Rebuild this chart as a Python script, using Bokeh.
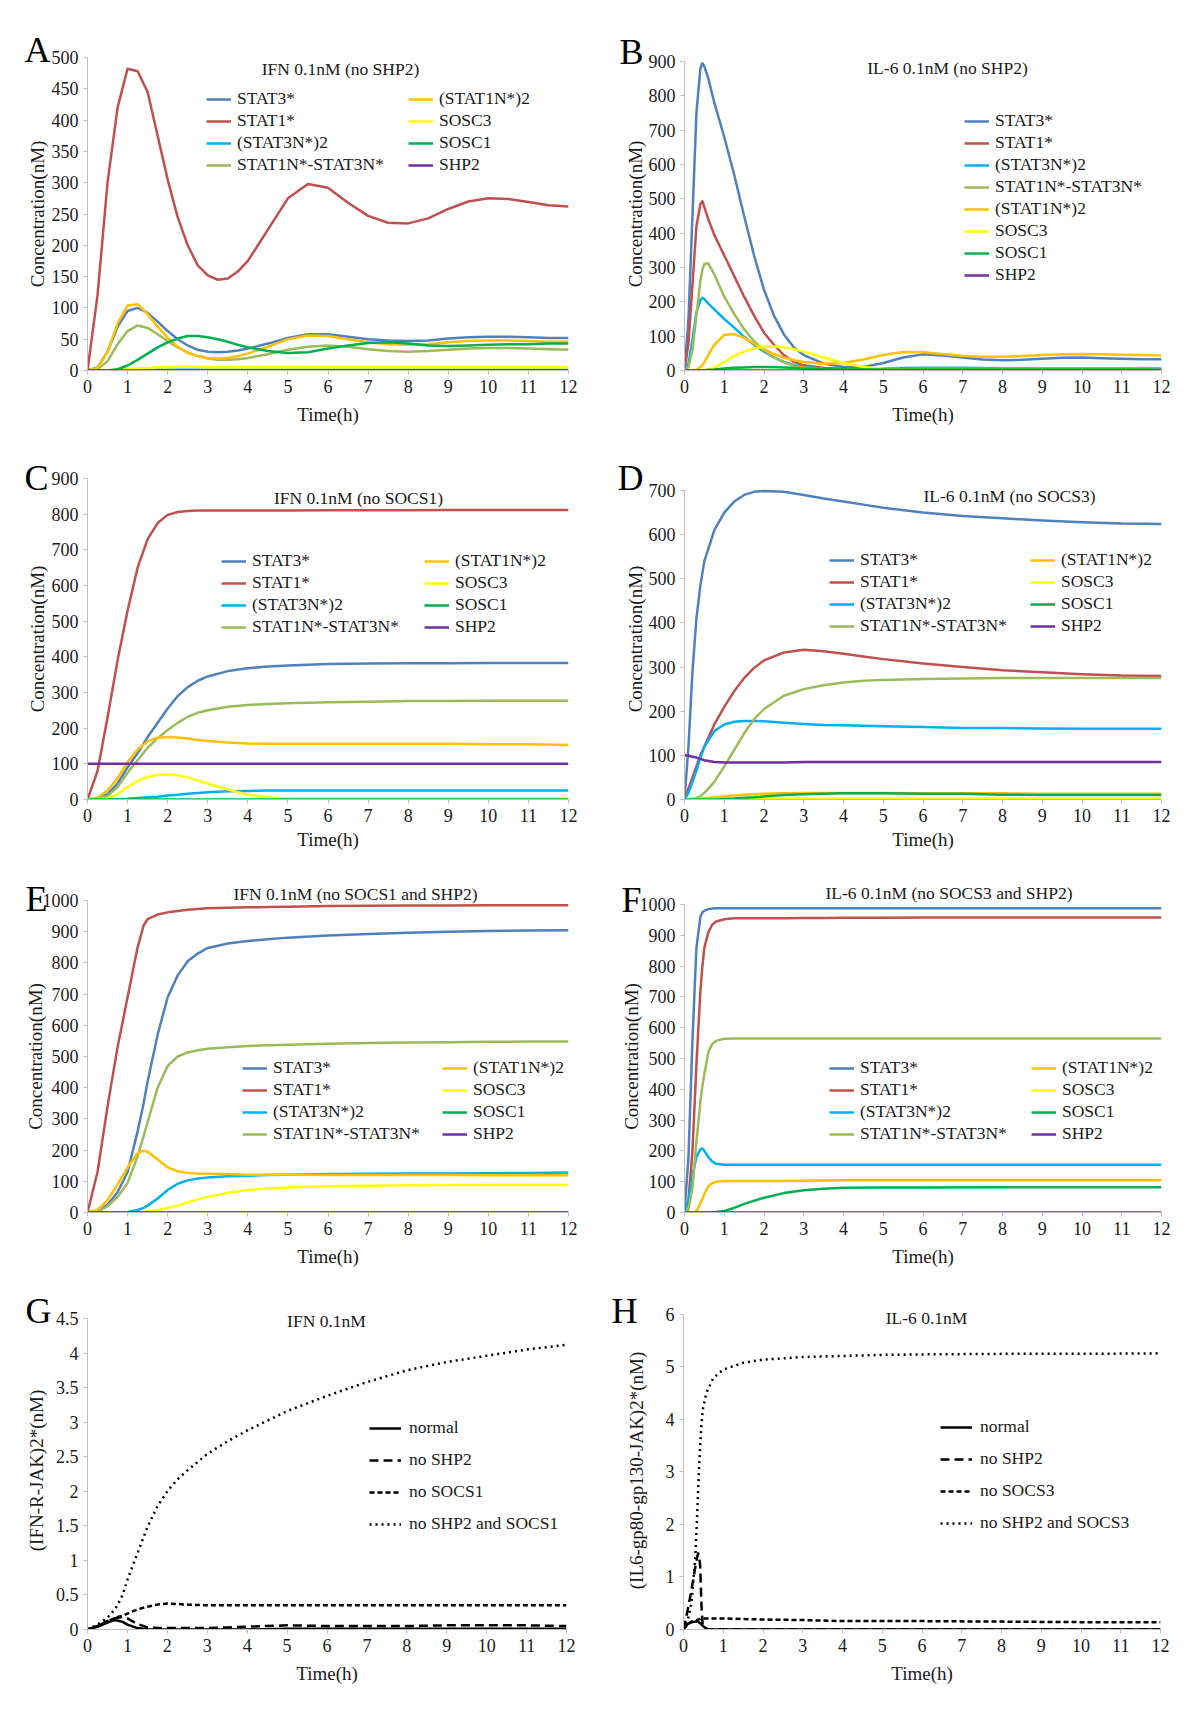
from bokeh.plotting import figure
from bokeh.models import (Range1d, FixedTicker, Legend, LegendItem, Label, Title,
                          CustomJSTickFormatter)
from bokeh.layouts import column, row
from bokeh.embed import file_html
from bokeh.resources import INLINE

FONT = "Liberation Serif"
TXT = "#1a1a1a"
AXIS_GRAY = "#BFBFBF"

NAMES = ["STAT3*", "STAT1*", "(STAT3N*)2", "STAT1N*-STAT3N*",
         "(STAT1N*)2", "SOSC3", "SOSC1", "SHP2"]
COLORS = ["#4F81BD", "#C0504D", "#00B0F0", "#9BBB59",
          "#FFC000", "#FFFF00", "#00B050", "#7030A0"]

X_TICKS = [0, 1, 2, 3, 4, 5, 6, 7, 8, 9, 10, 11, 12]

# ---------------- Panel A: IFN 0.1nM (no SHP2) ----------------
A_T = [0, 0.25, 0.5, 0.75, 1, 1.25, 1.5, 1.75, 2, 2.25, 2.5, 2.75, 3, 3.25, 3.5, 3.75,
       4, 4.5, 5, 5.5, 6, 6.5, 7, 7.5, 8, 8.5, 9, 9.5, 10, 10.5, 11, 11.5, 12]
A_STAT3 = [0, 5, 30, 70, 95, 100, 92, 78, 63, 50, 40, 33, 30, 29, 30, 32,
           35, 43, 52, 58, 58, 54, 50, 48, 47, 48, 51, 53, 54, 54, 53, 52, 52]
A_STAT1 = [0, 120, 300, 420, 482, 478, 445, 375, 305, 245, 200, 168, 152, 145, 147, 158,
           175, 225, 275, 298, 292, 268, 247, 236, 235, 243, 258, 270, 275, 274, 269, 264, 262]
A_STAT3N2 = [0, 0, 0, 0, 1, 1, 1, 1, 1, 1, 1, 1, 1, 1, 1, 1,
             1, 1, 1, 1, 1, 1, 1, 1, 1, 1, 1, 1, 1, 1, 1, 1, 1]
A_HET = [0, 2, 15, 42, 63, 72, 68, 58, 47, 37, 29, 23, 19, 17, 17, 18,
         20, 26, 33, 38, 40, 38, 34, 31, 30, 31, 33, 35, 36, 36, 35, 34, 33]
A_STAT1N2 = [0, 4, 30, 75, 104, 106, 90, 70, 52, 38, 28, 23, 20, 19, 20, 23,
             27, 38, 50, 56, 55, 50, 45, 42, 41, 42, 45, 47, 48, 48, 47, 46, 46]
A_SOCS3 = [0, 0, 0, 1, 2, 3, 4, 5, 5, 6, 6, 6, 5, 5, 5, 5,
           5, 5, 5, 5, 5, 5, 5, 5, 5, 5, 5, 5, 5, 5, 5, 5, 5]
A_SOCS1 = [0, 0, 0, 2, 8, 17, 27, 37, 45, 51, 55, 55, 53, 50, 46, 41,
           37, 31, 28, 29, 35, 40, 44, 45, 43, 40, 39, 40, 41, 42, 42, 43, 43]
A_SHP2 = [0] * 33
A_YTICKS = [0, 50, 100, 150, 200, 250, 300, 350, 400, 450, 500]

# ---------------- Panel B: IL-6 0.1nM (no SHP2) ----------------
B_T = [0, 0.1, 0.2, 0.3, 0.4, 0.45, 0.5, 0.6, 0.75, 1, 1.25, 1.5, 1.75, 2, 2.25, 2.5,
       2.75, 3, 3.5, 4, 4.5, 5, 5.5, 6, 6.5, 7, 7.5, 8, 8.5, 9, 9.5, 10, 10.5, 11, 11.5, 12]
B_STAT3 = [0, 150, 450, 750, 880, 895, 885, 850, 780, 680, 570, 450, 335, 235, 160, 105,
           68, 45, 20, 10, 10, 22, 38, 47, 44, 38, 32, 30, 31, 34, 37, 38, 36, 34, 33, 33]
B_STAT1 = [0, 80, 250, 420, 485, 493, 475, 440, 395, 335, 275, 215, 160, 110, 75, 45,
           25, 15, 7, 5, 4, 4, 4, 4, 4, 4, 4, 4, 4, 4, 4, 4, 4, 4, 4, 4]
B_STAT3N2 = [0, 20, 90, 170, 205, 212, 208, 195, 178, 150, 125, 98, 75, 55, 38, 25,
             16, 10, 5, 3, 4, 6, 7, 8, 8, 8, 7, 6, 6, 6, 6, 6, 6, 6, 6, 6]
B_HET = [0, 10, 60, 160, 260, 295, 310, 312, 280, 215, 165, 120, 85, 58, 38, 24,
         14, 9, 4, 3, 3, 3, 4, 5, 5, 5, 5, 4, 4, 4, 4, 4, 4, 4, 4, 4]
B_STAT1N2 = [0, 0, 0, 2, 10, 16, 25, 45, 75, 104, 106, 95, 78, 62, 48, 38,
             30, 25, 20, 22, 32, 45, 54, 53, 48, 42, 40, 40, 42, 45, 47, 48, 47, 46, 45, 44]
B_SOCS3 = [0, 0, 0, 0, 0, 0, 1, 3, 8, 25, 42, 55, 64, 69, 70, 68,
           62, 55, 38, 22, 10, 5, 4, 3, 3, 3, 3, 3, 3, 3, 3, 3, 3, 3, 3, 3]
B_SOCS1 = [0, 0, 0, 0, 0, 0, 1, 2, 3, 6, 8, 9, 10, 10, 10, 9,
           8, 6, 4, 3, 3, 3, 3, 3, 3, 3, 3, 3, 3, 3, 3, 3, 3, 3, 3, 3]
B_SHP2 = [0] * 36
B_YTICKS = [0, 100, 200, 300, 400, 500, 600, 700, 800, 900]

# ---------------- Panel C: IFN 0.1nM (no SOCS1) ----------------
C_T = [0, 0.25, 0.5, 0.75, 1, 1.25, 1.5, 1.75, 2, 2.25, 2.5, 2.75, 3, 3.5, 4, 4.5,
       5, 6, 7, 8, 9, 10, 11, 12]
C_STAT3 = [0, 3, 15, 45, 90, 130, 175, 215, 255, 290, 315, 333, 345, 360, 368, 373,
           376, 380, 381, 382, 382, 383, 383, 383]
C_STAT1 = [0, 80, 230, 390, 530, 650, 730, 775, 798, 806, 809, 810, 810, 810, 810, 810,
           810, 811, 811, 811, 812, 812, 812, 812]
C_STAT3N2 = [0, 0, 0, 1, 2, 4, 6, 8, 11, 13, 16, 18, 20, 23, 24, 25,
             25, 25, 25, 25, 25, 25, 25, 25]
C_HET = [0, 2, 10, 35, 75, 110, 145, 172, 195, 215, 232, 243, 250, 260, 265, 268,
         270, 273, 274, 276, 276, 277, 277, 277]
C_STAT1N2 = [0, 5, 25, 60, 105, 140, 163, 173, 175, 174, 171, 167, 164, 160, 157, 156,
             156, 156, 156, 156, 156, 155, 155, 153]
C_SOCS3 = [0, 0, 3, 15, 35, 52, 63, 69, 70, 68, 62, 53, 45, 28, 13, 6,
           3, 3, 3, 3, 3, 3, 3, 3]
C_SOCS1 = [0] * 24
C_SHP2 = [100] * 24
C_YTICKS = [0, 100, 200, 300, 400, 500, 600, 700, 800, 900]

# ---------------- Panel D: IL-6 0.1nM (no SOCS3) ----------------
D_T = [0, 0.1, 0.2, 0.3, 0.4, 0.5, 0.75, 1, 1.25, 1.5, 1.75, 2, 2.5, 3, 3.5, 4,
       4.5, 5, 6, 7, 8, 9, 10, 11, 12]
D_STAT3 = [0, 120, 290, 410, 485, 540, 610, 650, 675, 690, 697, 699, 697, 690, 682, 675,
           668, 661, 650, 642, 637, 632, 628, 625, 624]
D_STAT1 = [0, 25, 50, 75, 100, 120, 170, 210, 245, 275, 298, 315, 333, 339, 336, 330,
           324, 318, 308, 300, 293, 288, 284, 281, 280]
D_STAT3N2 = [0, 15, 40, 65, 95, 120, 155, 170, 176, 178, 178, 177, 174, 171, 169, 168,
             167, 166, 164, 162, 162, 161, 160, 160, 160]
D_HET = [0, 0, 1, 3, 8, 15, 40, 75, 112, 150, 182, 205, 235, 250, 259, 265,
         269, 271, 273, 274, 275, 275, 275, 275, 275]
D_STAT1N2 = [0, 0, 1, 1, 2, 3, 5, 7, 9, 11, 12, 13, 14, 15, 15, 15,
             15, 15, 14, 14, 14, 13, 13, 13, 13]
D_SOCS3 = [0, 0, 0, 0, 0, 0, 1, 1, 1, 1, 1, 1, 2, 2, 2, 2,
           2, 2, 2, 2, 2, 2, 2, 2, 2]
D_SOCS1 = [0, 0, 0, 0, 0, 0, 0, 1, 2, 4, 5, 7, 10, 12, 13, 14,
           14, 14, 13, 13, 11, 10, 10, 10, 10]
D_SHP2 = [100, 99, 97, 95, 92, 89, 85, 84, 84, 84, 84, 84, 84, 85, 85, 85,
          85, 85, 85, 85, 85, 85, 85, 85, 85]
D_YTICKS = [0, 100, 200, 300, 400, 500, 600, 700]

# ---------------- Panel E: IFN 0.1nM (no SOCS1 and SHP2) ----------------
E_T = [0, 0.25, 0.5, 0.75, 1, 1.25, 1.4, 1.5, 1.75, 2, 2.25, 2.5, 2.75, 3, 3.5, 4,
       4.5, 5, 6, 7, 8, 9, 10, 11, 12]
E_STAT3 = [0, 5, 25, 65, 130, 260, 350, 420, 570, 690, 760, 805, 830, 848, 862, 870,
           876, 881, 888, 893, 897, 900, 902, 904, 905]
E_STAT1 = [0, 130, 340, 530, 690, 850, 920, 940, 955, 962, 966, 970, 973, 975, 977, 978,
           979, 980, 982, 983, 984, 984, 985, 985, 985]
E_STAT3N2 = [0, 0, 0, 0, 2, 8, 15, 22, 45, 72, 92, 103, 109, 112, 116, 118,
             120, 121, 123, 124, 125, 125, 126, 127, 128]
E_HET = [0, 3, 20, 50, 95, 180, 245, 290, 400, 470, 500, 513, 520, 525, 530, 534,
         536, 538, 541, 543, 545, 546, 547, 548, 548]
E_STAT1N2 = [0, 8, 40, 90, 145, 190, 198, 195, 170, 145, 132, 127, 125, 124, 123, 121,
             121, 121, 120, 120, 120, 120, 119, 119, 119]
E_SOCS3 = [0, 0, 0, 0, 0, 1, 2, 4, 8, 14, 22, 32, 42, 50, 63, 72,
           77, 80, 84, 86, 87, 88, 88, 88, 88]
E_SOCS1 = [0] * 25
E_SHP2 = [0] * 25
E_YTICKS = [0, 100, 200, 300, 400, 500, 600, 700, 800, 900, 1000]

# ---------------- Panel F: IL-6 0.1nM (no SOCS3 and SHP2) ----------------
F_T = [0, 0.1, 0.2, 0.3, 0.4, 0.45, 0.5, 0.6, 0.7, 0.8, 1, 1.25, 1.5, 2, 2.5, 3,
       3.5, 4, 5, 6, 8, 10, 12]
F_STAT3 = [0, 180, 560, 860, 960, 975, 980, 985, 987, 988, 988, 988, 988, 988, 988, 988,
           988, 988, 988, 988, 988, 988, 988]
F_STAT1 = [0, 40, 200, 480, 720, 800, 860, 910, 935, 945, 952, 955, 955, 955, 955, 956,
           956, 957, 957, 958, 958, 958, 958]
F_STAT3N2 = [0, 40, 120, 180, 205, 208, 200, 180, 165, 158, 155, 155, 155, 155, 155, 155,
             155, 155, 155, 155, 155, 155, 155]
F_HET = [0, 10, 80, 230, 360, 410, 450, 520, 548, 558, 564, 565, 565, 565, 565, 565,
         565, 565, 565, 565, 565, 565, 565]
F_STAT1N2 = [0, 0, 0, 3, 30, 45, 60, 85, 95, 100, 102, 102, 102, 102, 102, 103,
             104, 105, 105, 105, 105, 105, 105]
F_SOCS3 = [0] * 23
F_SOCS1 = [0, 0, 0, 0, 0, 0, 0, 0, 0, 2, 5, 15, 28, 48, 63, 72,
           77, 80, 81, 81, 82, 82, 82]
F_SHP2 = [0] * 23
F_YTICKS = [0, 100, 200, 300, 400, 500, 600, 700, 800, 900, 1000]

# ---------------- Panel G: IFN 0.1nM, (IFN-R-JAK)2* ----------------
G_T = [0, 0.25, 0.5, 0.67, 0.75, 0.88, 1, 1.25, 1.5, 1.75, 2, 2.25, 2.5, 3, 3.5, 4,
       5, 6, 7, 8, 9, 10, 11, 12]
G_NORMAL = [0, 0.04, 0.1, 0.135, 0.13, 0.11, 0.07, 0.02, 0.005, 0, 0, 0, 0, 0, 0, 0,
            0.01, 0.01, 0.01, 0.01, 0.01, 0.01, 0.01, 0.01]
G_NOSHP2 = [0, 0.05, 0.12, 0.16, 0.17, 0.18, 0.16, 0.08, 0.03, 0.02, 0.02, 0.02, 0.02, 0.02, 0.03, 0.04,
            0.06, 0.05, 0.05, 0.05, 0.06, 0.06, 0.06, 0.05]
G_NOSOCS = [0, 0.05, 0.12, 0.16, 0.18, 0.2, 0.23, 0.29, 0.33, 0.36, 0.375, 0.37, 0.36, 0.35, 0.35, 0.35,
            0.35, 0.35, 0.35, 0.35, 0.35, 0.35, 0.35, 0.35]
G_NOBOTH = [0, 0.07, 0.17, 0.28, 0.35, 0.5, 0.72, 1.1, 1.48, 1.78, 2.0, 2.17, 2.3, 2.54, 2.72, 2.88,
            3.16, 3.38, 3.58, 3.75, 3.87, 3.96, 4.05, 4.12]
G_NAMES = ["normal", "no SHP2", "no SOCS1", "no SHP2 and SOCS1"]
G_YTICKS = [0, 0.5, 1, 1.5, 2, 2.5, 3, 3.5, 4, 4.5]

# ---------------- Panel H: IL-6 0.1nM, (IL6-gp80-gp130-JAK)2* ----------------
H_T = [0, 0.1, 0.2, 0.3, 0.35, 0.37, 0.4, 0.42, 0.45, 0.48, 0.5, 0.55, 0.6, 0.75, 1, 1.5,
       2, 3, 4, 5, 6, 8, 10, 12]
H_NORMAL = [0, 0.1, 0.14, 0.15, 0.15, 0.15, 0.13, 0.12, 0.1, 0.07, 0.06, 0.03, 0.01, 0, 0, 0,
            0, 0, 0, 0, 0, 0, 0, 0]
H_NOSHP2 = [0, 0.35, 0.75, 1.2, 1.4, 1.45, 1.35, 1.2, 0.5, 0.1, 0.05, 0.01, 0, 0, 0, 0,
            0, 0, 0, 0, 0, 0, 0, 0]
H_NOSOCS = [0, 0.1, 0.15, 0.17, 0.18, 0.19, 0.2, 0.2, 0.21, 0.21, 0.21, 0.21, 0.21, 0.21, 0.21, 0.2,
            0.19, 0.18, 0.16, 0.16, 0.16, 0.15, 0.14, 0.14]
H_NOBOTH = [0, 0.15, 0.5, 1.4, 2.3, 2.7, 3.2, 3.5, 3.9, 4.15, 4.25, 4.42, 4.55, 4.79, 4.95, 5.08,
            5.14, 5.19, 5.21, 5.23, 5.24, 5.25, 5.25, 5.26]
H_NAMES = ["normal", "no SHP2", "no SOCS3", "no SHP2 and SOCS3"]
H_YTICKS = [0, 1, 2, 3, 4, 5, 6]

BLACK_DASHES = ["solid", "9 5", "5 3", "2 4"]


def make_panel(t, series, names, colors, dashes, yticks, yend, ylabel, title, letter,
               size, border, title_pos, letter_off, letter_standoff, legends, yl_standoff,
               x_standoff=8, header_title=None, glyph_w=25, spacing=1, std=6):
    w, h = size
    l, r, tp, b = border
    p = figure(width=w, height=h, x_range=Range1d(0, 12), y_range=Range1d(0, yend),
               output_backend="svg", toolbar_location=None, title=None,
               min_border_left=l, min_border_right=r, min_border_top=tp,
               min_border_bottom=b)
    p.outline_line_color = None
    p.xgrid.visible = False
    p.ygrid.visible = False
    rends = []
    for ys, c, d in zip(series, colors, dashes):
        rends.append(p.line(t, ys, line_color=c, line_width=2.5, line_dash=d,
                            line_join="round", line_cap="butt"))
    for ax in (p.xaxis[0], p.yaxis[0]):
        ax.axis_line_color = AXIS_GRAY
        ax.major_tick_line_color = AXIS_GRAY
        ax.minor_tick_line_color = None
        ax.major_tick_in = 0
        ax.major_tick_out = 4
        ax.major_label_text_font = FONT
        ax.major_label_text_font_size = "18px"
        ax.major_label_text_color = TXT
        ax.axis_label_text_font = FONT
        ax.axis_label_text_font_size = "19px"
        ax.axis_label_text_font_style = "normal"
        ax.axis_label_text_color = TXT
        ax.formatter = CustomJSTickFormatter(code="return String(tick)")
    p.xaxis.ticker = FixedTicker(ticks=X_TICKS)
    p.yaxis.ticker = FixedTicker(ticks=yticks)
    p.yaxis.bounds = (yticks[0], yticks[-1])
    p.xaxis.axis_label = "Time(h)"
    p.xaxis.axis_label_standoff = x_standoff
    p.yaxis.axis_label = ylabel
    p.yaxis.axis_label_standoff = yl_standoff

    # panel letter: header placed next to the frame, pulled left and down
    p.add_layout(Title(text=letter, align="left", offset=letter_off,
                       standoff=letter_standoff, text_font=FONT, text_font_size="36px",
                       text_font_style="normal", text_color="#000000"), "above")
    if header_title is not None:
        # panel title above the frame (stacked outside the letter header)
        off, st = header_title
        p.add_layout(Title(text=title, align="left", offset=off, standoff=st,
                           text_font=FONT, text_font_size="17.5px",
                           text_font_style="normal", text_color=TXT), "above")
    else:
        p.add_layout(Label(x=title_pos[0], y=title_pos[1], x_units="screen",
                           y_units="screen", text=title, text_align="center",
                           text_baseline="middle", text_font=FONT,
                           text_font_size="17.5px", text_color=TXT))

    for (lx, ly, idx) in legends:
        items = [LegendItem(label=names[i], renderers=[rends[i]]) for i in idx]
        leg = Legend(items=items, location=(lx, ly), orientation="vertical",
                     glyph_width=glyph_w, glyph_height=20, label_height=20,
                     label_standoff=std, spacing=spacing, padding=0, margin=0,
                     border_line_color=None, background_fill_alpha=0,
                     label_text_font=FONT, label_text_font_size="17.5px",
                     label_text_color=TXT)
        p.add_layout(leg)
    return p


SOLID8 = ["solid"] * 8
CONC = "Concentration(nM)"
COL1 = [0, 1, 2, 3]
COL2 = [4, 5, 6, 7]

pA = make_panel(A_T, [A_STAT3, A_STAT1, A_STAT3N2, A_HET, A_STAT1N2, A_SOCS3, A_SOCS1, A_SHP2],
                NAMES, COLORS, SOLID8, A_YTICKS, 500, CONC, "IFN 0.1nM (no SHP2)", "A",
                (600, 432), (87, 32, 57, 62), (253, 302), -63, -24,
                [(119, 195, COL1), (321, 195, COL2)], 1)
pB = make_panel(B_T, [B_STAT3, B_STAT1, B_STAT3N2, B_HET, B_STAT1N2, B_SOCS3, B_SOCS1, B_SHP2],
                NAMES, COLORS, SOLID8, B_YTICKS, 911.6, CONC, "IL-6 0.1nM (no SHP2)", "B",
                (592, 432), (84, 31, 57, 62), (263, 303), -65, -28,
                [(280, 85, list(range(8)))], 0)
pC = make_panel(C_T, [C_STAT3, C_STAT1, C_STAT3N2, C_HET, C_STAT1N2, C_SOCS3, C_SOCS1, C_SHP2],
                NAMES, COLORS, SOLID8, C_YTICKS, 900, CONC, "IFN 0.1nM (no SOCS1)", "C",
                (600, 424), (87, 32, 46, 57), (271, 302), -63, -38,
                [(134, 162, COL1), (337, 162, COL2)], 1, x_standoff=4)
pD = make_panel(D_T, [D_STAT3, D_STAT1, D_STAT3N2, D_HET, D_STAT1N2, D_SOCS3, D_SOCS1, D_SHP2],
                NAMES, COLORS, SOLID8, D_YTICKS, 727.2, CONC, "IL-6 0.1nM (no SOCS3)", "D",
                (592, 424), (84, 31, 46, 57), (325, 304), -67, -38,
                [(145, 163, COL1), (346, 163, COL2)], 0, x_standoff=4)
pE = make_panel(E_T, [E_STAT3, E_STAT1, E_STAT3N2, E_HET, E_STAT1N2, E_SOCS3, E_SOCS1, E_SHP2],
                NAMES, COLORS, SOLID8, E_YTICKS, 1000, CONC, "IFN 0.1nM (no SOCS1 and SHP2)", "E",
                (600, 424), (87, 32, 44, 68), None, -62, -36,
                [(155, 68, COL1), (355, 68, COL2)], -6, header_title=(146, -18))
pF = make_panel(F_T, [F_STAT3, F_STAT1, F_STAT3N2, F_HET, F_STAT1N2, F_SOCS3, F_SOCS1, F_SHP2],
                NAMES, COLORS, SOLID8, F_YTICKS, 1013, CONC, "IL-6 0.1nM (no SOCS3 and SHP2)", "F",
                (592, 424), (84, 31, 44, 68), None, -63, -38,
                [(145, 68, COL1), (347, 68, COL2)], -5, header_title=(141, -13))
pG = make_panel(G_T, [G_NORMAL, G_NOSHP2, G_NOSOCS, G_NOBOTH], G_NAMES, ["#000000"] * 4,
                BLACK_DASHES, G_YTICKS, 4.601, "(IFN-R-JAK)2*(nM)", "IFN 0.1nM", "G",
                (600, 424), (87, 34, 31, 75), (239, 309), -62, -38,
                [(282, 95, [0, 1, 2, 3])], 6, glyph_w=32, spacing=11, std=8)
pH = make_panel(H_T, [H_NORMAL, H_NOSHP2, H_NOSOCS, H_NOBOTH], H_NAMES, ["#000000"] * 4,
                BLACK_DASHES, H_YTICKS, 6.057, "(IL6-gp80-gp130-JAK)2*(nM)", "IL-6 0.1nM", "H",
                (592, 424), (83, 32, 31, 75), (243, 312), -72, -38,
                [(257, 96, [0, 1, 2, 3])], 16, glyph_w=32, spacing=11, std=8)

layout = column(row(pA, pB), row(pC, pD), row(pE, pF), row(pG, pH))
open("out.html", "w").write(file_html(layout, INLINE))
